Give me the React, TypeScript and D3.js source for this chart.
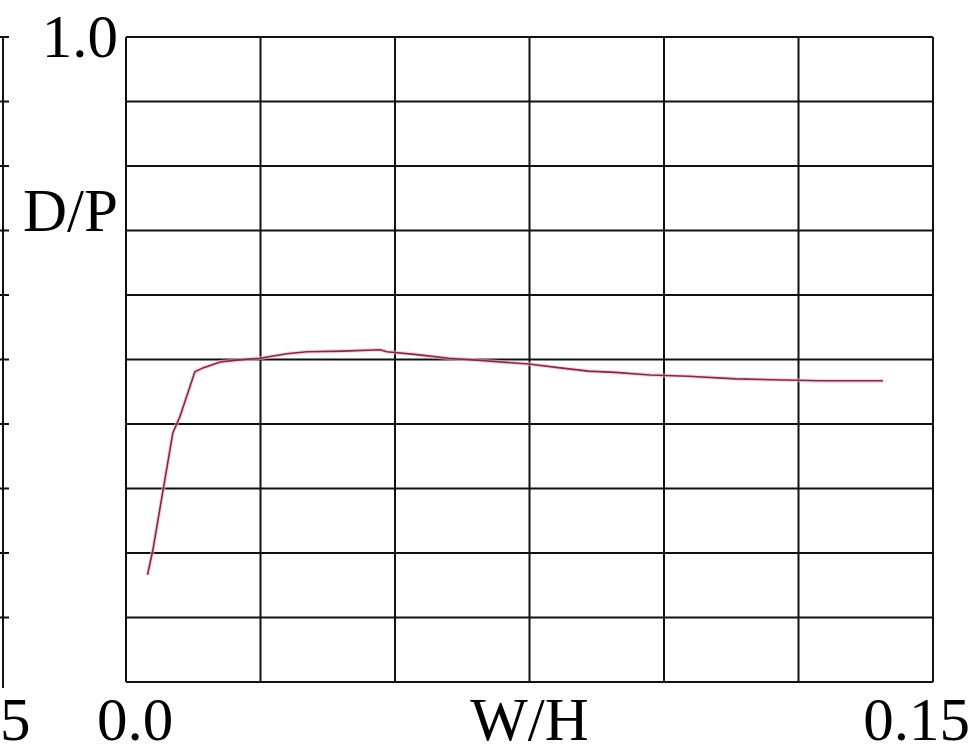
import React, { useRef, useEffect } from 'react';
import * as d3 from 'd3';

// W/H vs D/P curve
const whValues = [0.0040, 0.0050, 0.0069, 0.0087, 0.0100, 0.0128, 0.0143, 0.0175, 0.0206, 0.0249,
  0.0299, 0.0336, 0.0403, 0.0472, 0.0485, 0.0536, 0.0600, 0.0665, 0.0749, 0.0807,
  0.0859, 0.0909, 0.0974, 0.1045, 0.1134, 0.1288, 0.1407];
const dpValues = [0.166, 0.205, 0.298, 0.386, 0.411, 0.481, 0.487, 0.496, 0.499, 0.502,
  0.509, 0.512, 0.513, 0.515, 0.512, 0.508, 0.502, 0.498, 0.493, 0.487,
  0.482, 0.480, 0.476, 0.474, 0.470, 0.467, 0.467];

const xGrid = [0, 0.025, 0.05, 0.075, 0.1, 0.125, 0.15];
const yGrid = [0, 0.1, 0.2, 0.3, 0.4, 0.5, 0.6, 0.7, 0.8, 0.9, 1.0];
const xTickLabels = ['0.0', '0.15'];
const yTickLabels = ['1.0'];
const xTitle = 'W/H';
const yTitle = 'D/P';
// neighbouring (cropped) chart on the left
const leftTickLabel = '5';

const WIDTH = 977;
const HEIGHT = 754;
const FONT = '"Liberation Serif", "Times New Roman", serif';

const App: React.FC = () => {
  const svgRef = useRef<SVGSVGElement>(null);

  useEffect(() => {
    if (!svgRef.current) return;
    const svg = d3.select(svgRef.current);
    svg.selectAll('*').remove();

    const left = 126, right = 933, top = 37, bottom = 682;
    const x = d3.scaleLinear().domain([0, 0.15]).range([left, right]);
    const y = d3.scaleLinear().domain([0, 1]).range([bottom, top]);

    svg.append('rect').attr('width', WIDTH).attr('height', HEIGHT).attr('fill', '#fff');

    // grid
    const grid = svg.append('g').attr('stroke', '#111').attr('stroke-width', 2);
    grid.selectAll('.v').data(xGrid).enter().append('line')
      .attr('x1', d => x(d)).attr('x2', d => x(d))
      .attr('y1', top).attr('y2', bottom);
    grid.selectAll('.h').data(yGrid).enter().append('line')
      .attr('x1', left).attr('x2', right)
      .attr('y1', d => y(d)).attr('y2', d => y(d));

    // partial axis of the neighbouring chart
    const side = svg.append('g').attr('stroke', '#111').attr('stroke-width', 2);
    side.append('line').attr('x1', 3).attr('x2', 3).attr('y1', top).attr('y2', bottom + 6);
    side.selectAll('.t').data(yGrid.slice(1)).enter().append('line')
      .attr('x1', 0).attr('x2', 9)
      .attr('y1', d => y(d)).attr('y2', d => y(d));

    // curve
    const pts: [number, number][] = whValues.map((v, i) => [v, dpValues[i]]);
    const line = d3.line<[number, number]>().x(d => x(d[0])).y(d => y(d[1]));
    svg.append('path').datum(pts)
      .attr('d', line)
      .attr('fill', 'none')
      .attr('stroke', '#f4b8c8')
      .attr('stroke-width', 4)
      .attr('opacity', 0.6);
    svg.append('path').datum(pts)
      .attr('d', line)
      .attr('fill', 'none')
      .attr('stroke', '#7e2a48')
      .attr('stroke-width', 1.6);

    // labels
    const txt = svg.append('g').attr('font-family', FONT).attr('font-size', 61).attr('fill', '#000');
    txt.append('text').attr('x', 118).attr('y', 57).attr('text-anchor', 'end').text(yTickLabels[0]);
    txt.append('text').attr('x', 118).attr('y', 231).attr('text-anchor', 'end').text(yTitle);
    txt.append('text').attr('x', 97).attr('y', 740).text(xTickLabels[0]);
    txt.append('text').attr('x', 970).attr('y', 740).attr('text-anchor', 'end').text(xTickLabels[1]);
    txt.append('text').attr('x', x(0.075)).attr('y', 740).attr('text-anchor', 'middle').text(xTitle);
    txt.append('text').attr('x', 0).attr('y', 740).text(leftTickLabel);
  }, []);

  return (
    <div style={{ position: 'absolute', left: 0, top: 0, width: WIDTH, height: HEIGHT }}>
      <svg ref={svgRef} width={WIDTH} height={HEIGHT} style={{ display: 'block' }}></svg>
    </div>
  );
};

export default App;
